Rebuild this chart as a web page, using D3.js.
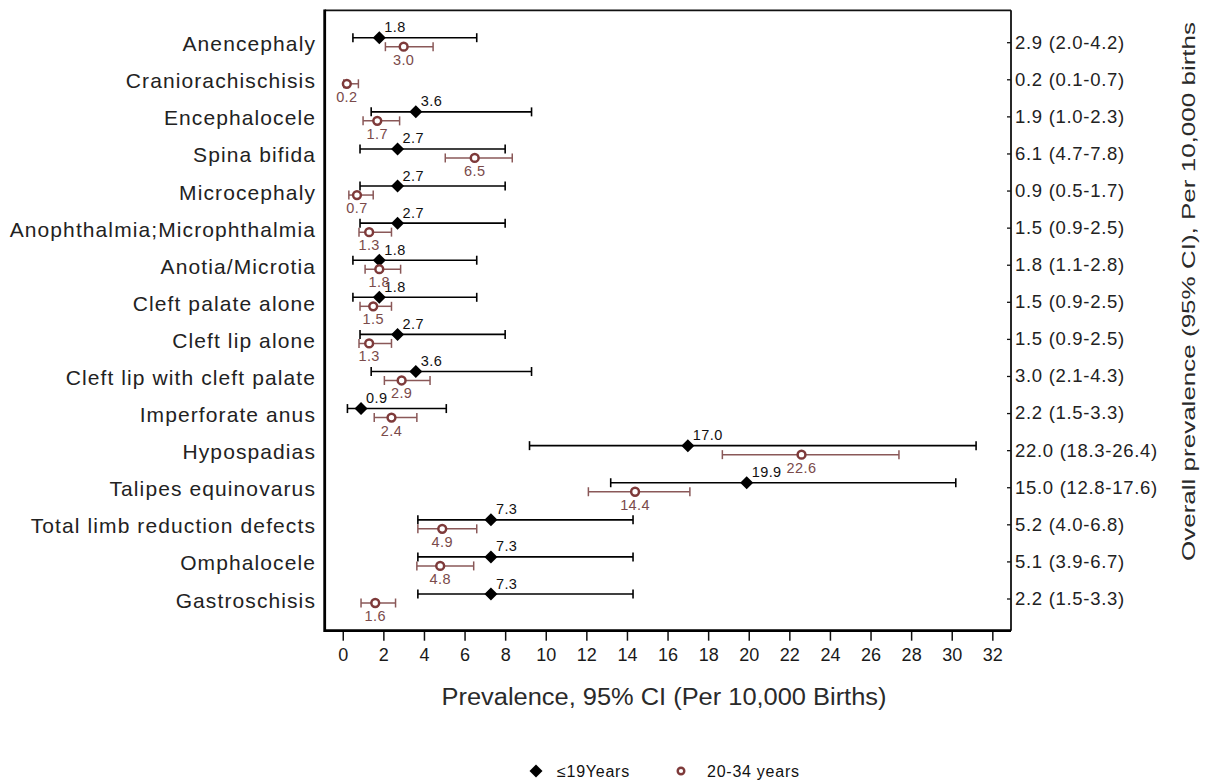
<!DOCTYPE html>
<html>
<head>
<meta charset="utf-8">
<script src="https://cdn.jsdelivr.net/npm/d3@7"></script>
<style>
  body { margin: 0; background: #fff; }
  svg { display: block; font-family: "Liberation Sans", Arial, sans-serif; }
</style>
</head>
<body>
<div id="chart"></div>
<script>
// categories, top to bottom
var categories = ["Anencephaly", "Craniorachischisis", "Encephalocele", "Spina bifida",
  "Microcephaly", "Anophthalmia;Microphthalmia", "Anotia/Microtia", "Cleft palate alone",
  "Cleft lip alone", "Cleft lip with cleft palate", "Imperforate anus", "Hypospadias",
  "Talipes equinovarus", "Total limb reduction defects", "Omphalocele", "Gastroschisis"];

// <=19 years
var young   = [1.8, null, 3.6, 2.7, 2.7, 2.7, 1.8, 1.8, 2.7, 3.6, 0.9, 17.0, 19.9, 7.3, 7.3, 7.3];
var youngLo = [0.5, null, 1.4, 0.85, 0.85, 0.85, 0.5, 0.5, 0.85, 1.4, 0.23, 9.2, 13.2, 3.7, 3.7, 3.7];
var youngHi = [6.6, null, 9.3, 8.0, 8.0, 8.0, 6.6, 6.6, 8.0, 9.3, 5.1, 31.2, 30.2, 14.3, 14.3, 14.3];

// 20-34 years
var adult   = [3.0, 0.2, 1.7, 6.5, 0.7, 1.3, 1.8, 1.5, 1.3, 2.9, 2.4, 22.6, 14.4, 4.9, 4.8, 1.6];
var adultLo = [2.1, 0.05, 1.0, 5.05, 0.3, 0.8, 1.1, 0.85, 0.8, 2.05, 1.55, 18.7, 12.1, 3.7, 3.65, 0.9];
var adultHi = [4.45, 0.77, 2.8, 8.35, 1.5, 2.4, 2.85, 2.4, 2.4, 4.3, 3.65, 27.4, 17.1, 6.6, 6.45, 2.6];

// overall prevalence labels (right axis)
var overall = ["2.9 (2.0-4.2)", "0.2 (0.1-0.7)", "1.9 (1.0-2.3)", "6.1 (4.7-7.8)",
  "0.9 (0.5-1.7)", "1.5 (0.9-2.5)", "1.8 (1.1-2.8)", "1.5 (0.9-2.5)", "1.5 (0.9-2.5)",
  "3.0 (2.1-4.3)", "2.2 (1.5-3.3)", "22.0 (18.3-26.4)", "15.0 (12.8-17.6)",
  "5.2 (4.0-6.8)", "5.1 (3.9-6.7)", "2.2 (1.5-3.3)"];

var xTicks = d3.range(0, 33, 2);
var legendLabels = ["\u226419Years", "20-34 years"];

var width = 1206, height = 783;
var frame = {left: 324.7, right: 1011, top: 10.3, bottom: 630.7};
var black = "#000", red = "#7e3a3a", redBar = "#8a5858", redText = "#7a4a4a";

var svg = d3.select("#chart").append("svg")
  .attr("width", width).attr("height", height);

var x = d3.scaleLinear().domain([-0.89, 32.92]).range([frame.left, frame.right]);
var y = d3.scalePoint().domain(categories).range([42.2, 598.5]);

var rows = categories.map(function(c, i) {
  return {cat: c, yv: young[i], yl: youngLo[i], yh: youngHi[i],
          av: adult[i], al: adultLo[i], ah: adultHi[i], overall: overall[i]};
});

// frame
svg.append("line").attr("x1", frame.left).attr("x2", frame.right)
  .attr("y1", frame.top).attr("y2", frame.top).attr("stroke", "#111").attr("stroke-width", 1.8);
svg.append("line").attr("x1", frame.right).attr("x2", frame.right)
  .attr("y1", frame.top).attr("y2", frame.bottom).attr("stroke", "#111").attr("stroke-width", 1.8);

// bottom axis
var xAxis = svg.append("g")
  .attr("transform", "translate(0," + frame.bottom + ")")
  .call(d3.axisBottom(x).tickValues(xTicks).tickSize(10).tickPadding(8).tickSizeOuter(0));
xAxis.select(".domain").remove();
xAxis.selectAll(".tick line").attr("stroke", "#111").attr("stroke-width", 1.5);
xAxis.selectAll(".tick text")
  .attr("fill", "#1a1a1a")
  .style("font-family", "'Liberation Sans Narrow', 'Arial Narrow', 'Liberation Sans', sans-serif")
  .style("font-size", "18px");

svg.append("line").attr("x1", frame.left).attr("x2", frame.right)
  .attr("y1", frame.bottom).attr("y2", frame.bottom).attr("stroke", "#000").attr("stroke-width", 2.8);
svg.append("line").attr("x1", frame.left).attr("x2", frame.left)
  .attr("y1", frame.top - 0.9).attr("y2", frame.bottom + 1.4).attr("stroke", "#000").attr("stroke-width", 2.8);

// right axis ticks + overall labels
var rAxis = svg.append("g").attr("transform", "translate(" + frame.right + ",0)")
  .call(d3.axisRight(y).tickSize(-4).tickPadding(4).tickFormat(function(d, i) { return overall[i]; }));
rAxis.select(".domain").remove();
rAxis.selectAll(".tick line").attr("stroke", "#111").attr("stroke-width", 1.3);
rAxis.selectAll(".tick text")
  .attr("fill", "#222")
  .style("font-size", "18.5px")
  .style("letter-spacing", "0.7px");

// left category labels
svg.append("g").selectAll("text").data(rows).join("text")
  .attr("x", 316)
  .attr("y", function(d) { return y(d.cat) + 9; })
  .attr("text-anchor", "end")
  .attr("fill", "#222")
  .style("font-size", "21px")
  .style("letter-spacing", "1.1px")
  .text(function(d) { return d.cat; });

var diamond = d3.symbol().type(d3.symbolSquare).size(84.5);
var capH = 4.5;

// <=19 years series
var youngRows = rows.filter(function(d) { return d.yv != null; });
var gY = svg.append("g");
gY.selectAll("line.bar").data(youngRows).join("line").attr("class", "bar")
  .attr("x1", function(d) { return x(d.yl); }).attr("x2", function(d) { return x(d.yh); })
  .attr("y1", function(d) { return y(d.cat) - 4.5; }).attr("y2", function(d) { return y(d.cat) - 4.5; })
  .attr("stroke", black).attr("stroke-width", 1.6);
["yl", "yh"].forEach(function(k) {
  gY.selectAll("line.cap-" + k).data(youngRows).join("line").attr("class", "cap-" + k)
    .attr("x1", function(d) { return x(d[k]); }).attr("x2", function(d) { return x(d[k]); })
    .attr("y1", function(d) { return y(d.cat) - 4.5 - capH; })
    .attr("y2", function(d) { return y(d.cat) - 4.5 + capH; })
    .attr("stroke", black).attr("stroke-width", 1.6);
});
gY.selectAll("path").data(youngRows).join("path")
  .attr("d", diamond)
  .attr("transform", function(d) { return "translate(" + x(d.yv) + "," + (y(d.cat) - 4.5) + ") rotate(45)"; })
  .attr("fill", black);
gY.selectAll("text").data(youngRows).join("text")
  .attr("x", function(d) { return x(d.yv) + 5; })
  .attr("y", function(d) { return y(d.cat) - 10; })
  .attr("fill", "#111")
  .style("font-size", "14.5px")
  .style("letter-spacing", "0.4px")
  .text(function(d) { return d.yv.toFixed(1); });

// 20-34 years series
var gA = svg.append("g");
gA.selectAll("line.bar").data(rows).join("line").attr("class", "bar")
  .attr("x1", function(d) { return x(d.al); }).attr("x2", function(d) { return x(d.ah); })
  .attr("y1", function(d) { return y(d.cat) + 4.5; }).attr("y2", function(d) { return y(d.cat) + 4.5; })
  .attr("stroke", redBar).attr("stroke-width", 1.5);
["al", "ah"].forEach(function(k) {
  gA.selectAll("line.cap-" + k).data(rows).join("line").attr("class", "cap-" + k)
    .attr("x1", function(d) { return x(d[k]); }).attr("x2", function(d) { return x(d[k]); })
    .attr("y1", function(d) { return y(d.cat) + 4.5 - capH; })
    .attr("y2", function(d) { return y(d.cat) + 4.5 + capH; })
    .attr("stroke", redBar).attr("stroke-width", 1.5);
});
gA.selectAll("circle").data(rows).join("circle")
  .attr("cx", function(d) { return x(d.av); })
  .attr("cy", function(d) { return y(d.cat) + 4.5; })
  .attr("r", 3.9)
  .attr("fill", "#fff")
  .attr("stroke", red)
  .attr("stroke-width", 2.5);
gA.selectAll("text").data(rows).join("text")
  .attr("x", function(d) { return x(d.av); })
  .attr("y", function(d) { return y(d.cat) + 22.5; })
  .attr("text-anchor", "middle")
  .attr("fill", redText)
  .style("font-size", "14.5px")
  .style("letter-spacing", "0.4px")
  .text(function(d) { return d.av.toFixed(1); });

// axis titles
svg.append("text")
  .attr("x", 664).attr("y", 705)
  .attr("text-anchor", "middle")
  .attr("fill", "#2a2a2a")
  .attr("textLength", 445).attr("lengthAdjust", "spacingAndGlyphs")
  .style("font-size", "23px")
  .text("Prevalence, 95% CI (Per 10,000 Births)");

svg.append("text")
  .attr("transform", "translate(1195,291.5) rotate(-90)")
  .attr("text-anchor", "middle")
  .attr("fill", "#2a2a2a")
  .attr("textLength", 539).attr("lengthAdjust", "spacingAndGlyphs")
  .style("font-size", "18.5px")
  .text("Overall prevalence (95% CI), Per 10,000 births");

// legend
var lg = svg.append("g").attr("transform", "translate(0,771)");
lg.append("path").attr("d", diamond).attr("transform", "translate(536,0) rotate(45)").attr("fill", black);
lg.append("text").attr("x", 557).attr("y", 5.7).attr("fill", "#111")
  .style("font-size", "16px").style("letter-spacing", "0.75px").text(legendLabels[0]);
lg.append("circle").attr("cx", 681).attr("cy", 0).attr("r", 3.3)
  .attr("fill", "#fff").attr("stroke", red).attr("stroke-width", 2.4);
lg.append("text").attr("x", 707).attr("y", 5.7).attr("fill", "#111")
  .style("font-size", "16px").style("letter-spacing", "0.75px").text(legendLabels[1]);
</script>
</body>
</html>
